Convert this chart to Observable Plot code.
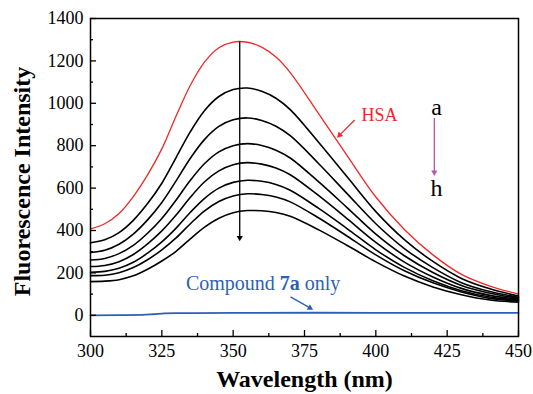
<!DOCTYPE html>
<html><head><meta charset="utf-8">
<script src="https://cdn.jsdelivr.net/npm/d3@7"></script>
<script src="https://cdn.jsdelivr.net/npm/@observablehq/plot@0.6"></script>
<style>body{margin:0;background:#fff}#chart{width:533px;height:394px}</style>
</head><body><div id="chart"></div>
<script>
// Wavelength grid (nm) of the read-off points
const wavelengths = [300,305,310,315,320,325,330,335,340,345,350,355,360,365,370,380,390,400,410,420,430,440,450];
// HSA alone (red)
const hsa = [408,432,480,560,662,785,940,1085,1195,1262,1289,1288,1265,1218,1145,950,752,558,405,285,193,138,100];
// HSA + increasing compound (black curves b..h)
const quenchNames = ["b","c","d","e","f","g","h"];
const curveB = [342,356,390,448,527,623,744,866,966,1032,1065,1072,1057,1024,970,815,652,489,357,254,174,125,91];
const curveC = [297,307,335,383,450,532,634,741,830,891,922,931,919,892,847,715,573,432,315,225,154,112,85];
const curveD = [261,268,291,330,387,457,544,637,716,771,800,810,801,779,742,629,507,383,281,202,141,104,80];
const curveE = [230,235,253,287,337,398,473,557,630,681,710,720,713,695,663,564,455,344,251,181,127,94,76];
const curveF = [203,207,222,250,293,346,411,486,552,600,627,637,632,617,590,504,408,309,226,163,116,86,72];
const curveG = [187,189,201,225,262,309,365,432,493,537,563,573,570,558,535,459,373,285,210,153,110,80,68];
const curveH = [159,161,168,186,217,256,302,361,416,458,484,494,493,485,467,403,329,252,185,134,97,72,62];
const quenched = [curveB,curveC,curveD,curveE,curveF,curveG,curveH];
// Compound 7a only (blue)
const compoundW = [300,310,318,322,326,330,350,380,420,450];
const compoundV = [0,1,2,5,9,10,11,12,11,11];
// Axis ticks
const xMajor = [300,325,350,375,400,425,450];
const xMinor = [312.5,337.5,362.5,387.5,412.5,437.5];
const yMajor = [0,200,400,600,800,1000,1200,1400];
const yMinor = [100,300,500,700,900,1100,1300];
// Annotations
const labelText = ["HSA","a","h","Compound 7a only"];
const labelX = [401.3,421.3,421.3,360.5];
const labelY = [945,980,598,148];
const labelColor = ["#f02828","black","black","#2e5fb5"];
const labelSize = [18,24,24,20];
const arrowX1 = [352.3,392.6,420.5,370.1];
const arrowY1 = [1292,921,931,87];
const arrowX2 = [352.3,387.3,420.5,376.9];
const arrowY2 = [366,850,674,35];
const arrowColor = ["black","#f02828","#b05ab5","#2e5fb5"];
const arrowAngle = [180,225,180,120];

const hsaRows = wavelengths.map((w,i)=>({w, v:hsa[i]}));
const blackRows = quenched.flatMap((arr,k)=>wavelengths.map((w,i)=>({series:quenchNames[k], w, v:arr[i]})));
const compRows = compoundW.map((w,i)=>({w, v:compoundV[i]}));
const labels = labelText.map((t,i)=>({t, x:labelX[i], y:labelY[i], c:labelColor[i], s:labelSize[i]}));
const arrows = arrowX1.map((x1,i)=>({x1, y1:arrowY1[i], x2:arrowX2[i], y2:arrowY2[i], c:arrowColor[i], a:arrowAngle[i]}));

const serif = "Liberation Serif";
const fmt = d => String(d);
const chart = Plot.plot({
  width:533, height:394,
  marginLeft:90, marginRight:15, marginTop:18, marginBottom:58,
  x:{domain:[300,450]},
  y:{domain:[-100,1400]},
  style:{fontFamily:serif, fontSize:"18px", color:"black", background:"white"},
  marks:[
    Plot.line(compRows, {x:"w", y:"v", stroke:"#2e5fb5", strokeWidth:1.8, curve:"monotone-x"}),
    Plot.line(blackRows, {x:"w", y:"v", z:"series", stroke:"black", strokeWidth:1.6, curve:"catmull-rom"}),
    Plot.line(hsaRows, {x:"w", y:"v", stroke:"#f02828", strokeWidth:1.3, curve:"catmull-rom"}),
    Plot.link(arrows, {x1:"x1", y1:"y1", x2:"x2", y2:"y2", stroke:"c", strokeWidth:1.3}),
    Plot.dot(arrows, {x:"x2", y:"y2", fill:"c", symbol:"triangle2", r:3, rotate:"a"}),
    Plot.text(labels, {x:"x", y:"y", text:"t", fill:"c", fontSize:"s", fontFamily:serif}),
    Plot.axisX(xMajor, {tickSize:-6, tickFormat:()=>"", label:null, strokeWidth:1.3}),
    Plot.axisX(xMinor, {tickSize:-3, tickFormat:()=>"", label:null, strokeWidth:1.3}),
    Plot.axisX(xMajor, {tickSize:0, tickPadding:8, tickFormat:fmt, label:null, fontSize:18, fontFamily:serif}),
    Plot.axisY(yMajor, {tickSize:-6, tickFormat:()=>"", label:null, strokeWidth:1.3}),
    Plot.axisY(yMinor, {tickSize:-3, tickFormat:()=>"", label:null, strokeWidth:1.3}),
    Plot.axisY(yMajor, {tickSize:0, tickPadding:7, tickFormat:fmt, label:null, fontSize:18, fontFamily:serif}),
    Plot.frame({stroke:"black", strokeWidth:1.5}),
    Plot.text(["Wavelength (nm)"], {frameAnchor:"bottom", dy:50, fontSize:24, fontWeight:"bold", fontFamily:serif}),
    Plot.text(["Fluorescence Intensity"], {frameAnchor:"left", textAnchor:"middle", dx:-68, dy:4, rotate:-90, fontSize:24, fontWeight:"bold", fontFamily:serif})
  ]
});
document.getElementById("chart").appendChild(chart);
// mixed-weight label: "Compound 7a only" with bold 7a
chart.querySelectorAll("text").forEach(el=>{
  if (el.textContent === "Compound 7a only") {
    el.textContent = "";
    const ns = "http://www.w3.org/2000/svg";
    const parts = [["Compound ",null],["7a","bold"],[" only",null]];
    for (const [s,w] of parts) {
      const ts = document.createElementNS(ns,"tspan");
      ts.textContent = s;
      if (w) ts.setAttribute("font-weight", w);
      el.appendChild(ts);
    }
  }
});
</script>
</body></html>
